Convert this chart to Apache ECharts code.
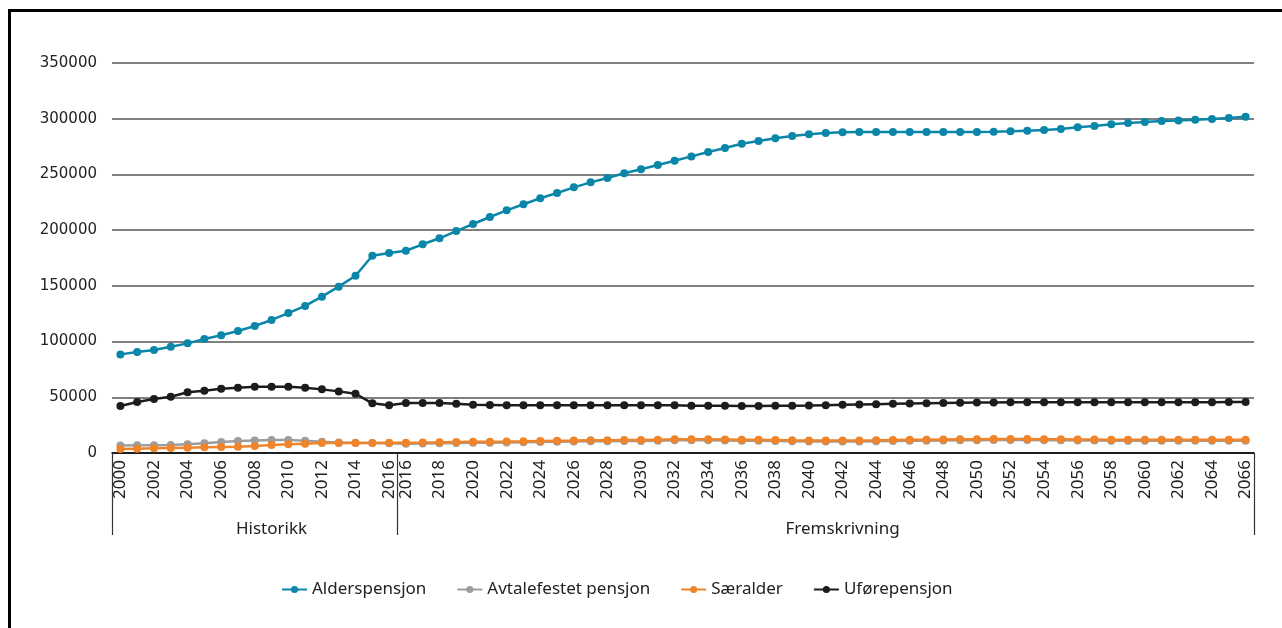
<!DOCTYPE html>
<html>
<head>
<meta charset="utf-8">
<script src="https://cdn.jsdelivr.net/npm/echarts@6/dist/echarts.min.js"></script>
<style>
  html, body { margin: 0; padding: 0; background: #fff; }
  #chart { position: absolute; left: 0; top: 0; width: 1282px; height: 628px; }
  #frame { position: absolute; left: 8px; top: 9px; width: 1290px; height: 640px; border-left: 3px solid #000; border-top: 3px solid #000; pointer-events: none; }
</style>
</head>
<body>
<div id="chart"></div>
<div id="frame"></div>
<script>
// 2000-2016 historikk, then 2016-2066 fremskrivning
const histYears = [];
for (let y = 2000; y <= 2016; y++) histYears.push(String(y));
const projYears = [];
for (let y = 2016; y <= 2066; y++) projYears.push(String(y));
const categories = histYears.concat(projYears);

const groupNames = ['Historikk', 'Fremskrivning'];
const seriesNames = ['Alderspensjon', 'Avtalefestet pensjon', 'Særalder', 'Uførepensjon'];

const alderspensjon = [
  88500, 90600, 92400, 95400, 98400, 102300, 105600, 109500, 114000, 119400,
  125600, 132000, 140300, 149300, 159100, 177000, 179500,
  181500, 187300, 192700, 199200, 205500, 211800, 217800, 223200, 228600, 233300,
  238400, 242900, 246800, 251000, 254600, 258400, 262300, 266200, 270100, 273700,
  277600, 280000, 282400, 284500, 286000, 287200, 287800, 288000, 288000, 288000,
  288000, 288000, 288000, 288000, 288000, 288300, 288700, 289300, 289900, 290700,
  292300, 293500, 295000, 296100, 297000, 297900, 298500, 299100, 299700, 300600, 301800
];
const avtalefestet = [
  6800, 6900, 7000, 7100, 7900, 8700, 9800, 10700, 11300, 11600,
  11600, 11000, 10000, 9500, 9200, 9000, 8800,
  8400, 8500, 8700, 9000, 9200, 9300, 9400, 9600, 9900, 10200,
  10300, 10500, 10600, 10800, 10800, 11100, 11400, 11500, 11400, 11300,
  11100, 10900, 10700, 10500, 10400, 10300, 10300, 10400, 10500, 10700,
  10900, 11100, 11300, 11400, 11500, 11600, 11600, 11600, 11500, 11400,
  11300, 11200, 11100, 11000, 11000, 11000, 11000, 11000, 11000, 11000, 11000
];
const saeralder = [
  3600, 3900, 4200, 4500, 4800, 5100, 5400, 5700, 6300, 7200,
  7800, 8400, 9000, 9000, 9000, 9000, 9300,
  9300, 9400, 9600, 9900, 10100, 10200, 10300, 10500, 10800, 11100,
  11200, 11400, 11500, 11700, 11700, 12000, 12300, 12400, 12300, 12200,
  12000, 11800, 11600, 11400, 11300, 11200, 11200, 11300, 11400, 11600,
  11800, 12000, 12200, 12300, 12400, 12500, 12500, 12500, 12400, 12300,
  12200, 12100, 12000, 11900, 11900, 11900, 11900, 11900, 11900, 11900, 11900
];
const uforepensjon = [
  42200, 45800, 48500, 50500, 54500, 55900, 57700, 58600, 59500, 59500,
  59500, 58600, 57100, 55300, 53200, 44600, 42800,
  44900, 44900, 44900, 44300, 43400, 43100, 42800, 42800, 42800, 42800,
  42800, 42800, 42800, 42800, 42800, 42800, 42800, 42500, 42400, 42300,
  42200, 42200, 42300, 42400, 42600, 42900, 43200, 43500, 43800, 44100,
  44400, 44700, 44900, 45100, 45300, 45400, 45500, 45500, 45500, 45500,
  45500, 45500, 45500, 45500, 45500, 45600, 45600, 45600, 45600, 45700, 45700
];

const colors = ['#0a86a9', '#9d9d9d', '#f0842a', '#1c1c1c'];
const allData = [alderspensjon, avtalefestet, saeralder, uforepensjon];
const histLen = histYears.length; // 17

const chart = echarts.init(document.getElementById('chart'));
const option = {
  animation: false,
  color: colors,
  grid: { left: 112, right: 28, top: 63, bottom: 175 },
  legend: {
    data: seriesNames,
    left: 276, top: 576,
    itemWidth: 25, itemHeight: 9, itemGap: 30,
    textStyle: { fontFamily: 'Noto Sans', fontSize: 17, color: '#222' }
  },
  xAxis: [
    {
      type: 'category', data: categories, position: 'bottom',
      axisLine: { lineStyle: { color: '#000', width: 1.5 } },
      axisTick: { interval: 0, length: 5, lineStyle: { color: '#333' } },
      axisLabel: {
        rotate: 90, margin: 7, fontFamily: 'Noto Sans', fontSize: 17, color: '#222',
        interval: function (i) { return i < histLen ? i % 2 === 0 : i % 2 === 1; }
      },
      splitLine: { show: false }
    },
    {
      type: 'category', data: categories, position: 'bottom', offset: 0,
      axisLine: { show: false },
      axisTick: {
        show: true, length: 82, lineStyle: { color: '#333', width: 1.2 },
        interval: function (i) { return i === 0 || i === histLen; }
      },
      axisLabel: {
        margin: 68, fontFamily: 'Noto Sans', fontSize: 17, color: '#222',
        interval: function (i) { return i === 9 || i === 43; },
        formatter: function (v, i) { return i < histLen ? groupNames[0] : groupNames[1]; }
      },
      splitLine: { show: false }
    }
  ],
  yAxis: {
    type: 'value', min: 0, max: 350000, interval: 50000,
    axisLine: { show: false }, axisTick: { show: false },
    axisLabel: {
      margin: 15, fontFamily: 'DejaVu Sans', fontSize: 15, color: '#222',
      formatter: function (v) { return String(v); }
    },
    splitLine: { lineStyle: { color: '#555', width: 1.5 } }
  },
  series: seriesNames.map(function (name, k) {
    return {
      name: name, type: 'line', xAxisIndex: 0, data: allData[k],
      symbol: 'circle', symbolSize: 8,
      lineStyle: { width: 2.5, color: colors[k] },
      itemStyle: { color: colors[k] }
    };
  })
};
chart.setOption(option);
</script>
</body>
</html>
